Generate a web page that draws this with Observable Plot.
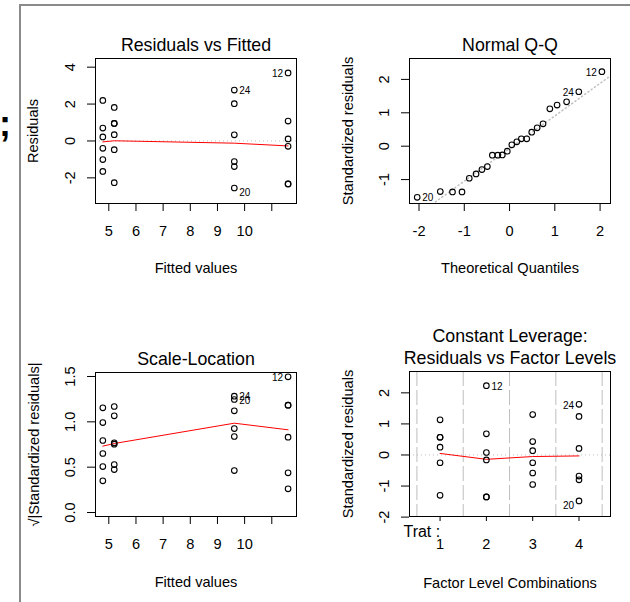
<!DOCTYPE html>
<html>
<head>
<meta charset="utf-8">
<script src="https://cdn.jsdelivr.net/npm/d3@7"></script>
<script src="https://cdn.jsdelivr.net/npm/@observablehq/plot@0.6"></script>
<style>
html, body { margin: 0; padding: 0; background: #fff; }
#wrap { position: relative; width: 630px; height: 602px; overflow: hidden; background: #fff; }
#deco { position: absolute; left: 0; top: 0; }
</style>
</head>
<body>
<div id="wrap">
<svg id="deco" width="630" height="602">
  <line x1="20" y1="5" x2="630" y2="5" stroke="#8a8a8a" stroke-width="2"/>
  <line x1="20" y1="4" x2="20" y2="602" stroke="#8a8a8a" stroke-width="2"/>
  <text x="-1" y="136" font-size="36" font-weight="bold" font-family="Liberation Sans, Arial, sans-serif">;</text>
</svg>
</div>
<script>
// ---------- data ----------
// Residuals vs Fitted
const rvfFitted = [4.78,4.78,4.78,4.78,4.78,4.78, 5.2,5.2,5.2,5.2,5.2,5.2, 9.62,9.62,9.62,9.62,9.62,9.62, 11.6,11.6,11.6,11.6,11.6,11.6];
const rvfResiduals = [2.20,0.70,0.22,-0.40,-1.01,-1.65, 1.82,0.95,0.95,0.34,-0.47,-2.26, 2.76,2.02,0.33,-1.12,-1.39,-2.55, 3.69,1.08,0.11,-0.29,-2.33,-2.33];
const rvfSmoothFitted = [4.78, 5.2, 9.62, 11.6];
const rvfSmoothResid = [-0.05, 0.01, -0.12, -0.27];
const rvfIds = ["12", "24", "20"];
const rvfIdFitted = [11.6, 9.62, 9.62];
const rvfIdResid = [3.69, 2.76, -2.55];
const fittedTicks = [5, 6, 7, 8, 9, 10, 11];
const fittedTickLabels = ["5", "6", "7", "8", "9", "10", ""];
const rvfYTicks = [-2, 0, 2, 4];
const rvfYTickLabels = ["-2", "0", "2", "4"];

// Normal Q-Q
const qqTheoretical = [-2.04,-1.53,-1.26,-1.05,-0.89,-0.74,-0.61,-0.49,-0.38,-0.26,-0.16,-0.05,0.05,0.16,0.26,0.38,0.49,0.61,0.74,0.89,1.05,1.26,1.53,2.04];
const qqStdRes = [-1.53,-1.36,-1.37,-1.37,-0.96,-0.83,-0.70,-0.61,-0.27,-0.27,-0.26,-0.15,0.04,0.13,0.22,0.22,0.42,0.55,0.67,1.12,1.23,1.33,1.63,2.23];
const qqLineIntercept = -0.07;
const qqLineSlope = 0.976;
const qqIds = ["12", "24", "20"];
const qqIdX = [2.04, 1.53, -2.04];
const qqIdY = [2.23, 1.63, -1.53];
const qqXTicks = [-2, -1, 0, 1, 2];
const qqXTickLabels = ["-2", "-1", "0", "1", "2"];
const qqYTicks = [-1, 0, 1, 2];
const qqYTickLabels = ["-1", "0", "1", "2"];

// Scale-Location
const slFitted = rvfFitted;
const slSqrtStdRes = [1.154,0.992,0.794,0.651,0.507,0.349, 1.169,1.066,0.768,0.754,0.529,0.474, 1.283,1.246,1.121,0.926,0.838,0.463, 1.496,1.184,1.184,0.831,0.438,0.261];
const slSmoothFitted = [4.78, 5.2, 9.62, 11.6];
const slSmoothValue = [0.732, 0.761, 0.985, 0.912];
const slIds = ["12", "24", "20"];
const slIdFitted = [11.6, 9.62, 9.62];
const slIdValue = [1.496, 1.283, 1.246];
const slYTicks = [0, 0.5, 1, 1.5];
const slYTickLabels = ["0.0", "0.5", "1.0", "1.5"];

// Constant Leverage: Residuals vs Factor Levels
const flvLevel = [1,1,1,1,1,1, 2,2,2,2,2,2, 3,3,3,3,3,3, 4,4,4,4,4,4];
const flvStdRes = [1.13,0.57,0.57,0.25,-0.25,-1.30, 2.23,0.68,0.08,-0.16,-1.35,-1.35, 1.30,0.43,0.14,-0.25,-0.58,-0.95, 1.63,1.24,0.21,-0.68,-0.80,-1.48];
const flvSmoothLevel = [1, 2, 3, 4];
const flvSmoothValue = [0.05, -0.14, -0.05, -0.03];
const flvIds = ["12", "24", "20"];
const flvIdLevel = [2, 4, 4];
const flvIdValue = [2.23, 1.63, -1.48];
const flvBoundaries = [0.5, 1.5, 2.5, 3.5, 4.5];
const factorName = "Trat";
const levelTicks = [1, 2, 3, 4];
const levelTickLabels = ["1", "2", "3", "4"];
const flvYTicks = [-2, -1, 0, 1, 2];
const flvYTickLabels = ["-2", "-1", "0", "1", "2"];

// ---------- helpers ----------
const FONT = '"Liberation Sans", Arial, Helvetica, sans-serif';
const baseStyle = {fontFamily: FONT, fontSize: "14.6px", color: "#000", background: "transparent", overflow: "visible"};
const GRAY = "#bebebe";
const wrap = document.getElementById("wrap");

function place(svg, left, top) {
  svg.style.position = "absolute";
  svg.style.left = left + "px";
  svg.style.top = top + "px";
  wrap.appendChild(svg);
}
function fmt(ticks, labels) {
  const m = new Map(ticks.map((t, i) => [t, labels[i]]));
  return d => m.get(d) ?? "";
}
function idLabels(xs, ys, ids, nudge = {}) {
  const mid = (d3.min(xs) + d3.max(xs)) / 2;
  return ids.map((id, i) => {
    const leftSide = xs[i] > mid;
    return Plot.text([id], {
      x: [xs[i]], y: [ys[i]], text: d => d,
      textAnchor: leftSide ? "end" : "start",
      dx: leftSide ? -5 : 5, dy: nudge[id] ?? 1,
      fontSize: 10, fill: "#000"
    });
  });
}
function title(lines, gap) {
  return lines.map((t, i) => Plot.text([t], {
    text: d => d, frameAnchor: "top", textAnchor: "middle", lineAnchor: "bottom",
    dy: -gap - (lines.length - 1 - i) * 21.6, fontSize: 17.8, fill: "#000"
  }));
}
function xTitle(t, dy) {
  return Plot.text([t], {text: d => d, frameAnchor: "bottom", textAnchor: "middle", lineAnchor: "bottom", dy, fill: "#000"});
}
function yTitle(t, dx) {
  return Plot.text([t], {text: d => d, frameAnchor: "left", textAnchor: "middle", lineAnchor: "bottom", rotate: -90, dx, fill: "#000"});
}
function xAxis(ticks, labels, tickSize = 8) {
  return Plot.axisX({ticks, tickFormat: fmt(ticks, labels), tickSize, tickPadding: 22.6 - tickSize, label: null, stroke: "#000", fill: "#000"});
}
function yAxis(ticks, labels) {
  return Plot.axisY({ticks, tickFormat: fmt(ticks, labels), tickSize: 8, tickPadding: 13, tickRotate: -90, label: null, stroke: "#000", fill: "#000"});
}
const dotOpts = {r: 2.8, stroke: "#000", strokeWidth: 1.1, fill: "none"};

// ---------- Panel 1: Residuals vs Fitted ----------
place(Plot.plot({
  width: 315, height: 300,
  marginLeft: 95, marginRight: 19, marginTop: 58, marginBottom: 97,
  x: {domain: [4.51, 11.91]},
  y: {domain: [-3.39, 4.47]},
  style: baseStyle,
  marks: [
    Plot.ruleY([0], {stroke: GRAY, strokeDasharray: "1,3"}),
    Plot.line(rvfSmoothFitted, {x: rvfSmoothFitted, y: rvfSmoothResid, stroke: "red", strokeWidth: 1}),
    Plot.dot(rvfResiduals, {x: rvfFitted, y: rvfResiduals, ...dotOpts}),
    ...idLabels(rvfIdFitted, rvfIdResid, rvfIds, {"20": 5}),
    Plot.frame({stroke: "#000"}),
    xAxis(fittedTicks, fittedTickLabels),
    yAxis(rvfYTicks, rvfYTickLabels),
    ...title(["Residuals vs Fitted"], 7.3),
    xTitle("Fitted values", 69.5),
    yTitle("Residuals", -58)
  ]
}), 0, 0);

// ---------- Panel 2: Normal Q-Q ----------
const qqXDomain = [-2.21, 2.23];
place(Plot.plot({
  width: 315, height: 300,
  marginLeft: 94, marginRight: 20, marginTop: 58, marginBottom: 97,
  x: {domain: qqXDomain},
  y: {domain: [-1.716, 2.626]},
  style: baseStyle,
  marks: [
    Plot.line(qqXDomain, {x: d => d, y: d => qqLineIntercept + qqLineSlope * d, stroke: GRAY, strokeDasharray: "1,3", clip: true}),
    Plot.dot(qqStdRes, {x: qqTheoretical, y: qqStdRes, ...dotOpts}),
    ...idLabels(qqIdX, qqIdY, qqIds),
    Plot.frame({stroke: "#000"}),
    xAxis(qqXTicks, qqXTickLabels),
    yAxis(qqYTicks, qqYTickLabels),
    ...title(["Normal Q-Q"], 7.3),
    xTitle("Theoretical Quantiles", 69.7),
    yTitle("Standardized residuals", -57)
  ]
}), 315, 0);

// ---------- Panel 3: Scale-Location ----------
place(Plot.plot({
  width: 315, height: 302,
  marginLeft: 95, marginRight: 19, marginTop: 72, marginBottom: 86,
  x: {domain: [4.51, 11.91]},
  y: {domain: [-0.044, 1.544]},
  style: baseStyle,
  marks: [
    Plot.line(slSmoothFitted, {x: slSmoothFitted, y: slSmoothValue, stroke: "red", strokeWidth: 1}),
    Plot.dot(slSqrtStdRes, {x: slFitted, y: slSqrtStdRes, ...dotOpts}),
    ...idLabels(slIdFitted, slIdValue, slIds),
    Plot.frame({stroke: "#000"}),
    xAxis(fittedTicks, fittedTickLabels),
    yAxis(slYTicks, slYTickLabels),
    ...title(["Scale-Location"], 8),
    xTitle("Fitted values", 70.6),
    yTitle("\u221A|Standardized residuals|", -57)
  ]
}), 0, 300);

// ---------- Panel 4: Constant Leverage ----------
place(Plot.plot({
  width: 315, height: 302,
  marginLeft: 94, marginRight: 20, marginTop: 71, marginBottom: 86,
  x: {domain: [0.34, 4.68]},
  y: {domain: [-1.98, 2.687]},
  style: baseStyle,
  marks: [
    Plot.ruleX(flvBoundaries, {stroke: GRAY, strokeDasharray: "15,4"}),
    Plot.ruleY([0], {stroke: GRAY, strokeDasharray: "1,3"}),
    Plot.line(flvSmoothLevel, {x: flvSmoothLevel, y: flvSmoothValue, stroke: "red", strokeWidth: 1}),
    Plot.dot(flvStdRes, {x: flvLevel, y: flvStdRes, ...dotOpts}),
    ...idLabels(flvIdLevel, flvIdValue, flvIds, {"20": 5}),
    Plot.frame({stroke: "#000"}),
    xAxis(levelTicks, levelTickLabels, 5),
    yAxis(flvYTicks, flvYTickLabels),
    Plot.text([factorName + " :"], {text: d => d, frameAnchor: "bottom-left", textAnchor: "end", lineAnchor: "bottom", dx: 30.7, dy: 20.5, fontSize: 16, fill: "#000"}),
    ...title(["Constant Leverage:", "Residuals vs Factor Levels"], 7.7),
    xTitle("Factor Level Combinations", 71.3),
    yTitle("Standardized residuals", -56.6)
  ]
}), 315, 300);
</script>
</body>
</html>
